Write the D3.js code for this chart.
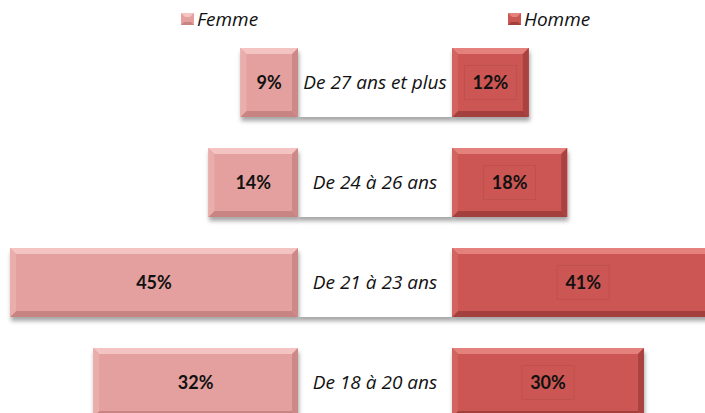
<!DOCTYPE html>
<html><head><meta charset="utf-8">
<script src="https://cdn.jsdelivr.net/npm/d3@7"></script>
<style>html,body{margin:0;padding:0;background:#fff;}svg{display:block;}</style>
</head><body>
<script>
const categories = ["De 27 ans et plus","De 24 à 26 ans","De 21 à 23 ans","De 18 à 20 ans"];
const femme = [9,14,45,32];
const homme = [12,18,41,30];
const seriesNames = ["Femme","Homme"];

const W=705,H=413;
const svg=d3.select("body").append("svg").attr("width",W).attr("height",H);
const defs=svg.append("defs");
const f=defs.append("filter").attr("id","sh").attr("x","-10%").attr("y","-10%").attr("width","130%").attr("height","140%");
f.append("feDropShadow").attr("dx",1).attr("dy",4).attr("stdDeviation",2.2).attr("flood-color","#000").attr("flood-opacity",0.35);

const y=d3.scaleBand().domain(categories).range([32.5,432.5]).paddingInner(0.31).paddingOuter(0.155);
const xF=d3.scaleLinear().domain([0,100]).range([298,298-640]);
const xM=d3.scaleLinear().domain([0,100]).range([452,452+640]);

const colF={base:"#e4a09e",top:"#f4c4c2",left:"#e9aeac",right:"#cd8987",bottom:"#c88482"};
const colM={base:"#cb5752",top:"#e5817c",left:"#d2645f",right:"#a9433f",bottom:"#a3403c"};

function bevel(g,x,yy,w,h,c){
  const b=6;
  const grp=g.append("g").attr("filter","url(#sh)");
  grp.append("rect").attr("x",x).attr("y",yy).attr("width",w).attr("height",h).attr("fill",c.base);
  const P=pts=>pts.map(p=>p.join(",")).join(" ");
  grp.append("polygon").attr("points",P([[x,yy],[x+w,yy],[x+w-b,yy+b],[x+b,yy+b]])).attr("fill",c.top);
  grp.append("polygon").attr("points",P([[x,yy+h],[x+w,yy+h],[x+w-b,yy+h-b],[x+b,yy+h-b]])).attr("fill",c.bottom);
  grp.append("polygon").attr("points",P([[x,yy],[x+b,yy+b],[x+b,yy+h-b],[x,yy+h]])).attr("fill",c.left);
  grp.append("polygon").attr("points",P([[x+w,yy],[x+w-b,yy+b],[x+w-b,yy+h-b],[x+w,yy+h]])).attr("fill",c.right);
}

const g=svg.append("g");
categories.forEach((cat,i)=>{
  const y0=y(cat),h=y.bandwidth();
  g.append("rect").attr("x",xF(0)).attr("y",y0).attr("width",xM(0)-xF(0)).attr("height",h).attr("fill","#fff").attr("filter","url(#sh)");
  bevel(g,xF(femme[i]),y0,xF(0)-xF(femme[i]),h,colF);
  bevel(g,xM(0),y0,xM(homme[i])-xM(0),h,colM);
  const cy=y0+h/2;
  g.append("text").attr("x",(xF(0)+xM(0))/2).attr("y",cy).attr("dy","0.36em").attr("text-anchor","middle")
    .style("font-family","'Open Sans', sans-serif").style("font-style","italic").style("font-size","19px").attr("fill","#111").text(cat);
  g.append("text").attr("x",(xF(0)+xF(femme[i]))/2).attr("y",cy).attr("dy","0.36em").attr("text-anchor","middle")
    .style("font-family","Lato, sans-serif").style("font-weight","bold").style("font-size","18px").attr("fill","#111").text(femme[i]+"%");
  const mxl=(xM(0)+xM(homme[i]))/2;
  g.append("rect").attr("x",mxl-26).attr("y",cy-17).attr("width",52).attr("height",34).attr("fill","none").attr("stroke","#bf504b").attr("stroke-width",1);
  g.append("text").attr("x",mxl).attr("y",cy).attr("dy","0.36em").attr("text-anchor","middle")
    .style("font-family","Lato, sans-serif").style("font-weight","bold").style("font-size","18px").attr("fill","#111").text(homme[i]+"%");
});

const leg=[{n:seriesNames[0],x:181,c:colF},{n:seriesNames[1],x:508,c:colM}];
leg.forEach(l=>{
  const lg=svg.append("g");
  const s=13, t=13;
  lg.append("rect").attr("x",l.x).attr("y",t).attr("width",s).attr("height",12).attr("fill",l.c.base);
  lg.append("polygon").attr("points",`${l.x},${t} ${l.x+s},${t} ${l.x+s-4},${t+4} ${l.x+4},${t+4}`).attr("fill",l.c.top);
  lg.append("polygon").attr("points",`${l.x},${t+12} ${l.x+s},${t+12} ${l.x+s-3},${t+9} ${l.x+3},${t+9}`).attr("fill",l.c.bottom);
  lg.append("text").attr("x",l.x+16).attr("y",26)
    .style("font-family","'Open Sans', sans-serif").style("font-style","italic").style("font-size","19px").attr("fill","#111").text(l.n);
});
</script>
</body></html>
